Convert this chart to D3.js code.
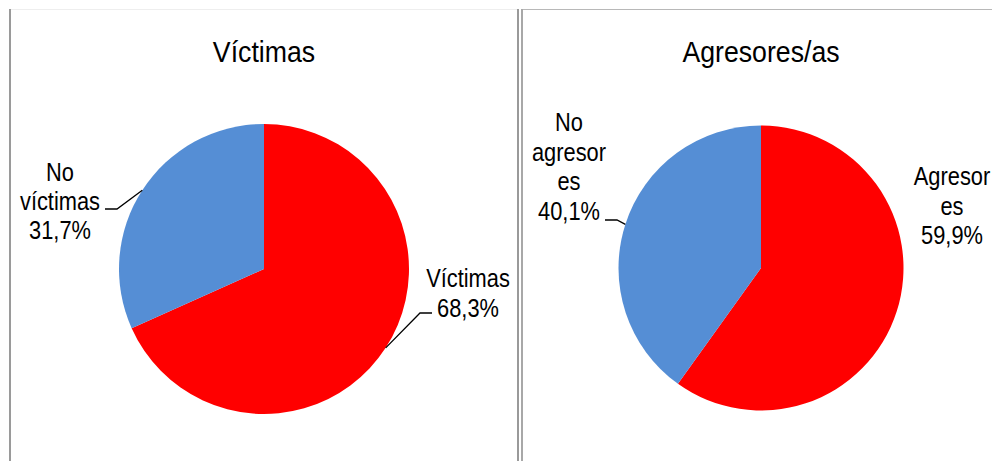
<!DOCTYPE html>
<html><head><meta charset="utf-8">
<script src="https://cdn.jsdelivr.net/npm/d3@7"></script>
<style>body{margin:0;background:#fff}svg{display:block}</style>
</head><body><svg id="c" width="992" height="461"></svg>
<script>
// ---- data ----
const titles = ["Víctimas", "Agresores/as"];
const victimasCats = ["Víctimas", "No víctimas"];
const victimasVals = [68.3, 31.7];
const agresoresCats = ["Agresores", "No agresores"];
const agresoresVals = [59.9, 40.1];
const victimasLabels = [["Víctimas", "68,3%"], ["No", "víctimas", "31,7%"]];
const agresoresLabels = [["Agresor", "es", "59,9%"], ["No", "agresor", "es", "40,1%"]];
const colors = ["#FF0000", "#558ED5"];

const svg = d3.select("#c");
const FONT = "'Liberation Sans', Arial, sans-serif";

// frames
svg.append("line").attr("x1",10).attr("x2",517).attr("y1",9.5).attr("y2",9.5).attr("stroke","#eeeeee");
svg.append("rect").attr("x",9).attr("y",9).attr("width",2).attr("height",452).attr("fill","#9a9a9a");
svg.append("rect").attr("x",517).attr("y",9).attr("width",2).attr("height",452).attr("fill","#9a9a9a");
svg.append("rect").attr("x",521).attr("y",9).attr("width",2).attr("height",452).attr("fill","#a8a8a8");
svg.append("line").attr("x1",523).attr("x2",992).attr("y1",9.5).attr("y2",9.5).attr("stroke","#b8b8b8");

const panels = [
  {title: titles[0], cats: victimasCats, vals: victimasVals, labels: victimasLabels,
   cx: 264, cy: 269, r: 145, tx: 264,
   lab: [{x: 468, y0: 287, dy: 29.5, lead: [432, 313, 420]},
         {x: 60, y0: 181, dy: 29, lead: [105, 209, 117]}]},
  {title: titles[1], cats: agresoresCats, vals: agresoresVals, labels: agresoresLabels,
   cx: 761, cy: 268, r: 142.5, tx: 761,
   lab: [{x: 952, y0: 185, dy: 29.5, lead: null},
         {x: 569, y0: 131, dy: 29.5, lead: [605, 220, 617]}]}
];

function stretchedText(sel, x, y, str, size, sx, sy){
  const g = sel.append("g").attr("transform", `translate(${x},${y}) scale(${sx},${sy})`);
  g.append("text").attr("text-anchor","middle").attr("font-family",FONT)
   .attr("font-size",size).attr("fill","#000").text(str);
}

panels.forEach(p => {
  stretchedText(svg, p.tx, 62, p.title, 23, 1.16, 1.27);
  const pie = d3.pie().sort(null).value(d => d)(p.vals);
  const arc = d3.arc().innerRadius(0).outerRadius(p.r);
  const edge = d3.arc().innerRadius(p.r).outerRadius(p.r);
  const g = svg.append("g").attr("transform", `translate(${p.cx},${p.cy})`);
  g.selectAll("path").data(pie).join("path")
    .attr("d", arc).attr("fill", (d,i) => colors[i]);
  pie.forEach((d,i) => {
    const L = p.lab[i];
    p.labels[i].forEach((s,k) => stretchedText(svg, L.x, L.y0 + k*L.dy, s, 19.5, 1.12, 1.3));
    if (L.lead) {
      const c = edge.centroid(d);
      svg.append("path")
        .attr("d", `M${L.lead[0]},${L.lead[1]}L${L.lead[2]},${L.lead[1]}L${p.cx + c[0]},${p.cy + c[1]}`)
        .attr("fill","none").attr("stroke","#000").attr("stroke-width",1.3);
    }
  });
});
</script></body></html>
